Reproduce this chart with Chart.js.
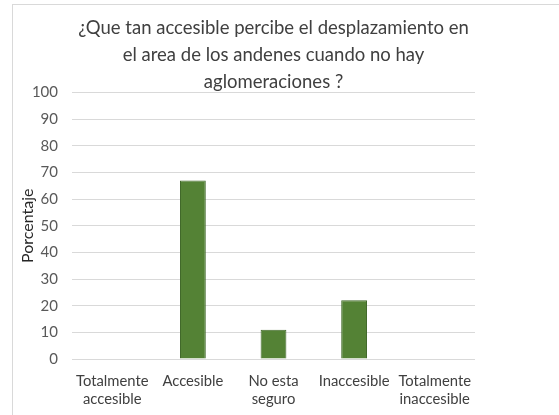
<!DOCTYPE html>
<html>
<head>
<meta charset="utf-8">
<script src="https://cdn.jsdelivr.net/npm/chart.js@4"></script>
<style>
  html, body { margin: 0; padding: 0; background: #ffffff; }
  #wrap { position: relative; width: 559px; height: 415px; overflow: hidden; }
  #frame { position: absolute; left: 12px; top: 4px; width: 600px; height: 500px; border: 1px solid #d9d9d9; }
  #c { position: absolute; left: 0; top: 0; }
</style>
</head>
<body>
<div id="wrap">
  <div id="frame"></div>
  <canvas id="c" width="559" height="415"></canvas>
</div>
<script>
const titleLines = [
  '¿Que tan accesible percibe el desplazamiento en',
  'el area de los andenes cuando no hay',
  'aglomeraciones ?'
];
const categories = [
  ['Totalmente', 'accesible'],
  'Accesible',
  ['No esta', 'seguro'],
  'Inaccesible',
  ['Totalmente', 'inaccesible']
];
const percentages = [0, 67, 11, 22, 0];
const yAxisTitle = 'Porcentaje';
const yMin = 0;
const yMax = 100;
const yStep = 10;

const FONT = "Lato, 'Open Sans', sans-serif";

new Chart(document.getElementById('c'), {
  type: 'bar',
  data: {
    labels: categories,
    datasets: [{
      data: percentages,
      backgroundColor: '#548235',
      borderColor: '#41692a',
      borderWidth: 1,
      barPercentage: 0.32,
      categoryPercentage: 1
    }]
  },
  options: {
    responsive: false,
    devicePixelRatio: 1,
    animation: false,
    layout: { padding: { left: 10, right: 84, top: 0, bottom: 0 } },
    plugins: {
      legend: { display: false },
      tooltip: { enabled: false },
      title: {
        display: true,
        fullSize: false,
        text: titleLines,
        color: '#404040',
        font: { family: FONT, size: 18.5, weight: 'normal', lineHeight: '27px' },
        padding: { top: 15, bottom: -3.5 }
      }
    },
    scales: {
      x: {
        grid: { display: false, drawTicks: false },
        border: { display: false },
        ticks: {
          color: '#404040',
          padding: 13,
          maxRotation: 0,
          autoSkip: false,
          font: { family: FONT, size: 14.8, lineHeight: '18px' }
        },
        afterFit: (s) => { s.height = 56; }
      },
      y: {
        min: yMin,
        max: yMax,
        grid: { color: '#d9d9d9', lineWidth: 1, drawTicks: false },
        border: { display: false },
        ticks: {
          stepSize: yStep,
          color: '#595959',
          padding: 14,
          font: { family: FONT, size: 15 }
        },
        title: {
          display: true,
          text: yAxisTitle,
          color: '#262626',
          font: { family: FONT, size: 16 },
          padding: { top: 8, bottom: 0 }
        },
        afterFit: (s) => { s.width = 62; }
      }
    }
  }
});
</script>
</body>
</html>
